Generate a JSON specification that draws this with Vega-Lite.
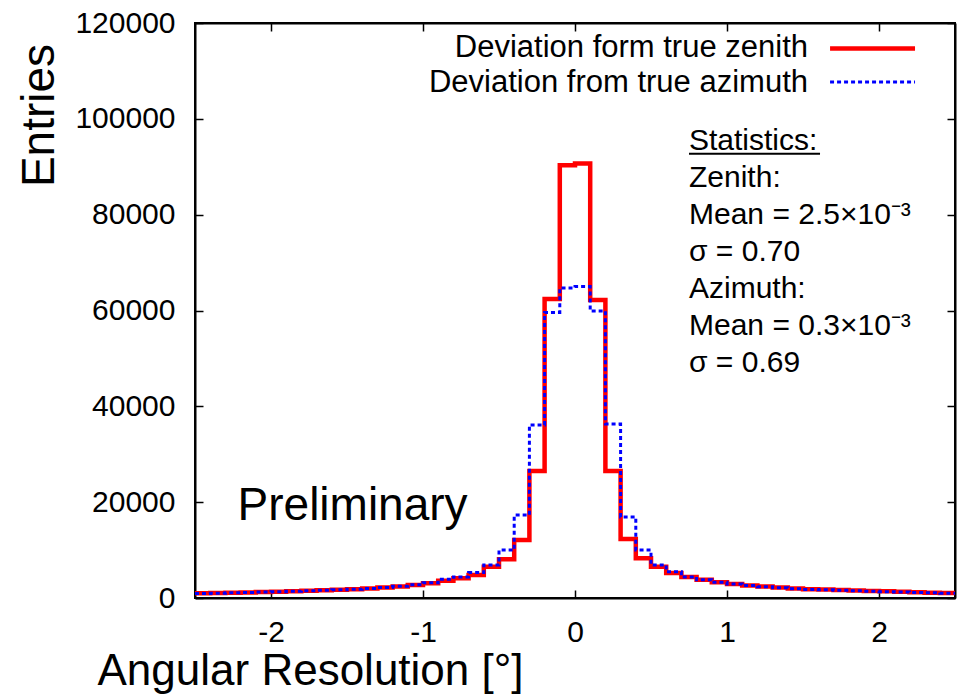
{
  "$schema": "https://vega.github.io/schema/vega-lite/v6.json",
  "width": 760,
  "height": 575,
  "autosize": {"type": "none"},
  "padding": {"left": 195, "top": 23, "right": 3, "bottom": 97},
  "background": "white",
  "config": {
    "view": {"stroke": "black", "strokeWidth": 2},
    "font": "Liberation Sans",
    "axis": {
      "grid": false,
      "domainColor": "black",
      "domainWidth": 2,
      "tickColor": "black",
      "tickWidth": 1.5,
      "tickSize": -8,
      "labelFont": "Liberation Sans",
      "labelFontSize": 30,
      "labelColor": "black",
      "labelFlush": false,
      "labelOverlap": false,
      "titleFont": "Liberation Sans",
      "titleColor": "black",
      "titleFontWeight": "normal"
    },
    "text": {"font": "Liberation Sans", "color": "black"}
  },
  "datasets": {
    "hist": [
      {"series": "Zenith", "edge": -2.5, "entries": 1000},
      {"series": "Zenith", "edge": -2.4, "entries": 1050},
      {"series": "Zenith", "edge": -2.3, "entries": 1100},
      {"series": "Zenith", "edge": -2.2, "entries": 1150},
      {"series": "Zenith", "edge": -2.1, "entries": 1250},
      {"series": "Zenith", "edge": -2.0, "entries": 1300},
      {"series": "Zenith", "edge": -1.9, "entries": 1400},
      {"series": "Zenith", "edge": -1.8, "entries": 1500},
      {"series": "Zenith", "edge": -1.7, "entries": 1600},
      {"series": "Zenith", "edge": -1.6, "entries": 1700},
      {"series": "Zenith", "edge": -1.5, "entries": 1850},
      {"series": "Zenith", "edge": -1.4, "entries": 2000},
      {"series": "Zenith", "edge": -1.3, "entries": 2200},
      {"series": "Zenith", "edge": -1.2, "entries": 2400},
      {"series": "Zenith", "edge": -1.1, "entries": 2700},
      {"series": "Zenith", "edge": -1.0, "entries": 3100},
      {"series": "Zenith", "edge": -0.9, "entries": 3600},
      {"series": "Zenith", "edge": -0.8, "entries": 4100},
      {"series": "Zenith", "edge": -0.7, "entries": 4800},
      {"series": "Zenith", "edge": -0.6, "entries": 6500},
      {"series": "Zenith", "edge": -0.5, "entries": 8100},
      {"series": "Zenith", "edge": -0.4, "entries": 12100},
      {"series": "Zenith", "edge": -0.3, "entries": 26500},
      {"series": "Zenith", "edge": -0.2, "entries": 62400},
      {"series": "Zenith", "edge": -0.1, "entries": 90300},
      {"series": "Zenith", "edge": 0.0, "entries": 90700},
      {"series": "Zenith", "edge": 0.1, "entries": 62200},
      {"series": "Zenith", "edge": 0.2, "entries": 26500},
      {"series": "Zenith", "edge": 0.3, "entries": 12300},
      {"series": "Zenith", "edge": 0.4, "entries": 8300},
      {"series": "Zenith", "edge": 0.5, "entries": 6500},
      {"series": "Zenith", "edge": 0.6, "entries": 5200},
      {"series": "Zenith", "edge": 0.7, "entries": 4400},
      {"series": "Zenith", "edge": 0.8, "entries": 3800},
      {"series": "Zenith", "edge": 0.9, "entries": 3300},
      {"series": "Zenith", "edge": 1.0, "entries": 2900},
      {"series": "Zenith", "edge": 1.1, "entries": 2600},
      {"series": "Zenith", "edge": 1.2, "entries": 2400},
      {"series": "Zenith", "edge": 1.3, "entries": 2200},
      {"series": "Zenith", "edge": 1.4, "entries": 2000},
      {"series": "Zenith", "edge": 1.5, "entries": 1850},
      {"series": "Zenith", "edge": 1.6, "entries": 1750},
      {"series": "Zenith", "edge": 1.7, "entries": 1650},
      {"series": "Zenith", "edge": 1.8, "entries": 1550},
      {"series": "Zenith", "edge": 1.9, "entries": 1450},
      {"series": "Zenith", "edge": 2.0, "entries": 1400},
      {"series": "Zenith", "edge": 2.1, "entries": 1300},
      {"series": "Zenith", "edge": 2.2, "entries": 1200},
      {"series": "Zenith", "edge": 2.3, "entries": 1100},
      {"series": "Zenith", "edge": 2.4, "entries": 1050},
      {"series": "Zenith", "edge": 2.5, "entries": 1050},
      {"series": "Azimuth", "edge": -2.5, "entries": 950},
      {"series": "Azimuth", "edge": -2.4, "entries": 1000},
      {"series": "Azimuth", "edge": -2.3, "entries": 1100},
      {"series": "Azimuth", "edge": -2.2, "entries": 1150},
      {"series": "Azimuth", "edge": -2.1, "entries": 1250},
      {"series": "Azimuth", "edge": -2.0, "entries": 1300},
      {"series": "Azimuth", "edge": -1.9, "entries": 1400},
      {"series": "Azimuth", "edge": -1.8, "entries": 1500},
      {"series": "Azimuth", "edge": -1.7, "entries": 1600},
      {"series": "Azimuth", "edge": -1.6, "entries": 1700},
      {"series": "Azimuth", "edge": -1.5, "entries": 1850},
      {"series": "Azimuth", "edge": -1.4, "entries": 2000},
      {"series": "Azimuth", "edge": -1.3, "entries": 2200},
      {"series": "Azimuth", "edge": -1.2, "entries": 2450},
      {"series": "Azimuth", "edge": -1.1, "entries": 2750},
      {"series": "Azimuth", "edge": -1.0, "entries": 3200},
      {"series": "Azimuth", "edge": -0.9, "entries": 3900},
      {"series": "Azimuth", "edge": -0.8, "entries": 4400},
      {"series": "Azimuth", "edge": -0.7, "entries": 5300},
      {"series": "Azimuth", "edge": -0.6, "entries": 6900},
      {"series": "Azimuth", "edge": -0.5, "entries": 10000},
      {"series": "Azimuth", "edge": -0.4, "entries": 17300},
      {"series": "Azimuth", "edge": -0.3, "entries": 36100},
      {"series": "Azimuth", "edge": -0.2, "entries": 59600},
      {"series": "Azimuth", "edge": -0.1, "entries": 64700},
      {"series": "Azimuth", "edge": 0.0, "entries": 65000},
      {"series": "Azimuth", "edge": 0.1, "entries": 59900},
      {"series": "Azimuth", "edge": 0.2, "entries": 36300},
      {"series": "Azimuth", "edge": 0.3, "entries": 16900},
      {"series": "Azimuth", "edge": 0.4, "entries": 10000},
      {"series": "Azimuth", "edge": 0.5, "entries": 6900},
      {"series": "Azimuth", "edge": 0.6, "entries": 5500},
      {"series": "Azimuth", "edge": 0.7, "entries": 4400},
      {"series": "Azimuth", "edge": 0.8, "entries": 3800},
      {"series": "Azimuth", "edge": 0.9, "entries": 3300},
      {"series": "Azimuth", "edge": 1.0, "entries": 2900},
      {"series": "Azimuth", "edge": 1.1, "entries": 2600},
      {"series": "Azimuth", "edge": 1.2, "entries": 2350},
      {"series": "Azimuth", "edge": 1.3, "entries": 2150},
      {"series": "Azimuth", "edge": 1.4, "entries": 1950},
      {"series": "Azimuth", "edge": 1.5, "entries": 1800},
      {"series": "Azimuth", "edge": 1.6, "entries": 1700},
      {"series": "Azimuth", "edge": 1.7, "entries": 1600},
      {"series": "Azimuth", "edge": 1.8, "entries": 1500},
      {"series": "Azimuth", "edge": 1.9, "entries": 1400},
      {"series": "Azimuth", "edge": 2.0, "entries": 1300},
      {"series": "Azimuth", "edge": 2.1, "entries": 1250},
      {"series": "Azimuth", "edge": 2.2, "entries": 1150},
      {"series": "Azimuth", "edge": 2.3, "entries": 1100},
      {"series": "Azimuth", "edge": 2.4, "entries": 1000},
      {"series": "Azimuth", "edge": 2.5, "entries": 1000}
    ]
  },
  "layer": [
    {
      "data": {"name": "hist"},
      "transform": [{"filter": "datum.series === 'Zenith'"}],
      "mark": {"type": "line", "interpolate": "step-after", "color": "#ff0000", "strokeWidth": 4.5, "clip": true},
      "encoding": {
        "x": {
          "field": "edge", "type": "quantitative",
          "scale": {"domain": [-2.5, 2.5], "nice": false, "zero": false},
          "axis": {
            "orient": "bottom",
            "values": [-2, -1, 0, 1, 2],
            "labelExpr": "'' + datum.value",
            "labelPadding": 27,
            "title": "Angular Resolution [°]",
            "titleFontSize": 44,
            "titleAlign": "left",
            "titleBaseline": "alphabetic",
            "titleX": -98,
            "titleY": 86
          }
        },
        "y": {
          "field": "entries", "type": "quantitative",
          "scale": {"domain": [0, 120000], "nice": false, "zero": true},
          "axis": {
            "orient": "left",
            "values": [0, 20000, 40000, 60000, 80000, 100000, 120000],
            "format": "d",
            "labelPadding": 28,
            "title": "Entries",
            "titleFontSize": 46,
            "titleAngle": -90,
            "titleAlign": "center",
            "titleBaseline": "alphabetic",
            "titleX": -142,
            "titleY": 92
          }
        }
      }
    },
    {
      "data": {"name": "hist"},
      "transform": [{"filter": "datum.series === 'Azimuth'"}],
      "mark": {"type": "line", "interpolate": "step-after", "color": "#0000ff", "strokeWidth": 3, "strokeDash": [4, 3], "clip": true},
      "encoding": {
        "x": {"field": "edge", "type": "quantitative", "scale": {"domain": [-2.5, 2.5], "nice": false, "zero": false}, "axis": null},
        "y": {"field": "entries", "type": "quantitative", "scale": {"domain": [0, 120000], "nice": false, "zero": true}, "axis": null}
      }
    },
    {
      "data": {"name": "hist"},
      "mark": {"type": "line", "strokeOpacity": 0},
      "encoding": {
        "x": {
          "field": "edge", "type": "quantitative",
          "scale": {"domain": [-2.5, 2.5], "nice": false, "zero": false},
          "axis": {"orient": "top", "values": [-2, -1, 0, 1, 2], "labels": false, "title": null}
        },
        "y": {
          "field": "entries", "type": "quantitative",
          "scale": {"domain": [0, 120000], "nice": false, "zero": true},
          "axis": {"orient": "right", "values": [0, 20000, 40000, 60000, 80000, 100000, 120000], "labels": false, "title": null}
        }
      }
    },
    {
      "data": {"values": [{}]},
      "mark": {"type": "text", "text": "Deviation form true zenith", "align": "right", "baseline": "alphabetic", "fontSize": 31},
      "encoding": {
        "x": {"datum": 1.533, "type": "quantitative", "axis": null},
        "y": {"datum": 112900, "type": "quantitative", "axis": null}
      }
    },
    {
      "data": {"values": [{}]},
      "mark": {"type": "text", "text": "Deviation from true azimuth", "align": "right", "baseline": "alphabetic", "fontSize": 31},
      "encoding": {
        "x": {"datum": 1.533, "type": "quantitative", "axis": null},
        "y": {"datum": 105700, "type": "quantitative", "axis": null}
      }
    },
    {
      "data": {"values": [{}]},
      "mark": {"type": "rule", "color": "#ff0000", "strokeWidth": 4.5},
      "encoding": {
        "x": {"datum": 1.678, "type": "quantitative", "axis": null},
        "x2": {"datum": 2.237},
        "y": {"datum": 114660, "type": "quantitative", "axis": null}
      }
    },
    {
      "data": {"values": [{}]},
      "mark": {"type": "rule", "color": "#0000ff", "strokeWidth": 3, "strokeDash": [4, 3]},
      "encoding": {
        "x": {"datum": 1.678, "type": "quantitative", "axis": null},
        "x2": {"datum": 2.237},
        "y": {"datum": 107690, "type": "quantitative", "axis": null}
      }
    },
    {
      "data": {"values": [{}]},
      "mark": {
        "type": "text",
        "text": ["Statistics:", "Zenith:", "Mean = 2.5×10⁻³", "σ = 0.70", "Azimuth:", "Mean = 0.3×10⁻³", "σ = 0.69"],
        "align": "left", "baseline": "alphabetic", "fontSize": 30, "lineHeight": 37
      },
      "encoding": {
        "x": {"datum": 0.75, "type": "quantitative", "axis": null},
        "y": {"datum": 93500, "type": "quantitative", "axis": null}
      }
    },
    {
      "data": {"values": [{}]},
      "mark": {"type": "rule", "color": "black", "strokeWidth": 2},
      "encoding": {
        "x": {"datum": 0.75, "type": "quantitative", "axis": null},
        "x2": {"datum": 1.612},
        "y": {"datum": 92700, "type": "quantitative", "axis": null}
      }
    },
    {
      "data": {"values": [{}]},
      "mark": {"type": "text", "text": "Preliminary", "align": "left", "baseline": "alphabetic", "fontSize": 46},
      "encoding": {
        "x": {"datum": -2.22, "type": "quantitative", "axis": null},
        "y": {"datum": 16300, "type": "quantitative", "axis": null}
      }
    }
  ],
  "resolve": {"axis": {"x": "independent", "y": "independent"}}
}
